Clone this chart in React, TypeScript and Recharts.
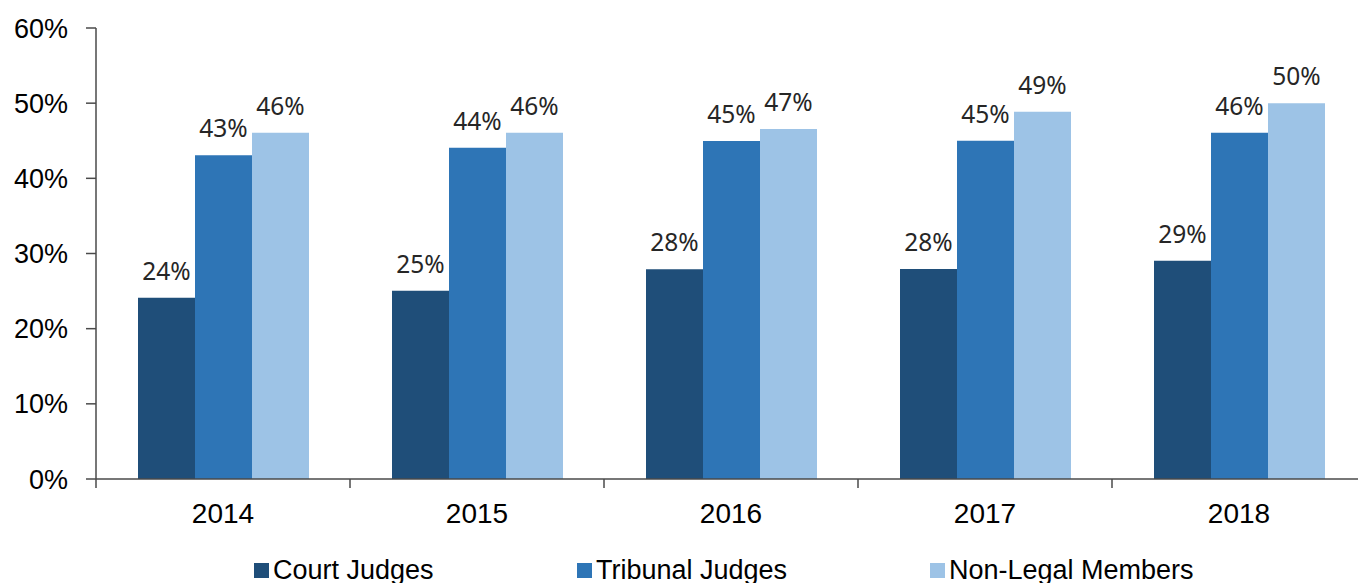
import { BarChart, Bar, XAxis, YAxis, LabelList, Legend } from 'recharts'

const years = ['2014', '2015', '2016', '2017', '2018']
const courtJudges = [24.1, 25.05, 27.9, 27.95, 29.04]
const tribunalJudges = [43.07, 44.07, 44.97, 45.0, 46.07]
const nonLegalMembers = [46.07, 46.07, 46.56, 48.87, 49.98]
const yTicks = [0, 10, 20, 30, 40, 50, 60]

const series = [
  { key: 'court', name: 'Court Judges', color: '#1F4E79' },
  { key: 'tribunal', name: 'Tribunal Judges', color: '#2E75B6' },
  { key: 'nonLegal', name: 'Non-Legal Members', color: '#9DC3E6' },
]

const data = years.map((year, i) => ({
  year,
  court: courtJudges[i],
  tribunal: tribunalJudges[i],
  nonLegal: nonLegalMembers[i],
}))

const W = 1380
const H = 583
const M = { top: 28, right: 14, left: 0, bottom: 0 }
const Y_AXIS_W = 96
const X_AXIS_H = 104
const AXIS_Y = H - M.bottom - X_AXIS_H
const BAND = (W - M.left - M.right - Y_AXIS_W) / years.length
const AXIS_COLOR = '#4a4a4a'
const FONT = '"Liberation Sans", Arial, sans-serif'
// left edge of each legend swatch
const LEGEND_X = [254, 577, 930]

function XTick(props: any) {
  const { x, payload, index } = props
  return (
    <g>
      {index === 0 && <line x1={x - BAND / 2} x2={x - BAND / 2} y1={AXIS_Y} y2={AXIS_Y + 9} stroke={AXIS_COLOR} strokeWidth={1.5} />}
      <line x1={x + BAND / 2} x2={x + BAND / 2} y1={AXIS_Y} y2={AXIS_Y + 9} stroke={AXIS_COLOR} strokeWidth={1.5} />
      <text x={x} y={AXIS_Y + 24.6} dy="0.71em" textAnchor="middle" fontSize={28} fontFamily={FONT} fill="#000">
        {payload.value}
      </text>
    </g>
  )
}

function LegendContent() {
  return (
    <div style={{ position: 'relative', height: 30, fontFamily: FONT, fontSize: 27, color: '#000' }}>
      {series.map((s, i) => (
        <div key={s.key} style={{ position: 'absolute', left: LEGEND_X[i], top: 0, display: 'flex', alignItems: 'center', whiteSpace: 'nowrap' }}>
          <span style={{ width: 15, height: 15, background: s.color, marginRight: 4, display: 'inline-block' }} />
          <span style={{ lineHeight: '30px' }}>{s.name}</span>
        </div>
      ))}
    </div>
  )
}

export default function App() {
  return (
    <div style={{ position: 'fixed', left: 0, top: 0, width: 1358, height: 583, overflow: 'hidden', background: '#fff' }}>
      <BarChart width={W} height={H} data={data} margin={M} barCategoryGap={42} barGap={0}>
        <XAxis
          dataKey="year"
          height={X_AXIS_H}
          tickLine={false}
          tick={<XTick />}
          interval={0}
          axisLine={{ stroke: AXIS_COLOR, strokeWidth: 1.5 }}
        />
        <YAxis
          width={Y_AXIS_W}
          domain={[0, 60]}
          ticks={yTicks}
          tickFormatter={v => `${v}%`}
          tickSize={10}
          tickMargin={18}
          tick={{ fontSize: 27, fontFamily: FONT, fill: '#000' }}
          axisLine={{ stroke: AXIS_COLOR, strokeWidth: 1.5 }}
          tickLine={{ stroke: AXIS_COLOR, strokeWidth: 1.5 }}
        />
        {series.map(s => (
          <Bar key={s.key} dataKey={s.key} name={s.name} fill={s.color} isAnimationActive={false}>
            <LabelList
              dataKey={s.key}
              position="top"
              offset={18}
              formatter={(v: any) => `${Math.round(v)}%`}
              style={{ fontSize: 24.5, fontFamily: '"Noto Sans", sans-serif', fill: '#262626' }}
            />
          </Bar>
        ))}
        <Legend
          layout="horizontal"
          verticalAlign="middle"
          align="center"
          content={<LegendContent />}
          wrapperStyle={{ top: 555, left: 0, width: W }}
        />
      </BarChart>
    </div>
  )
}
